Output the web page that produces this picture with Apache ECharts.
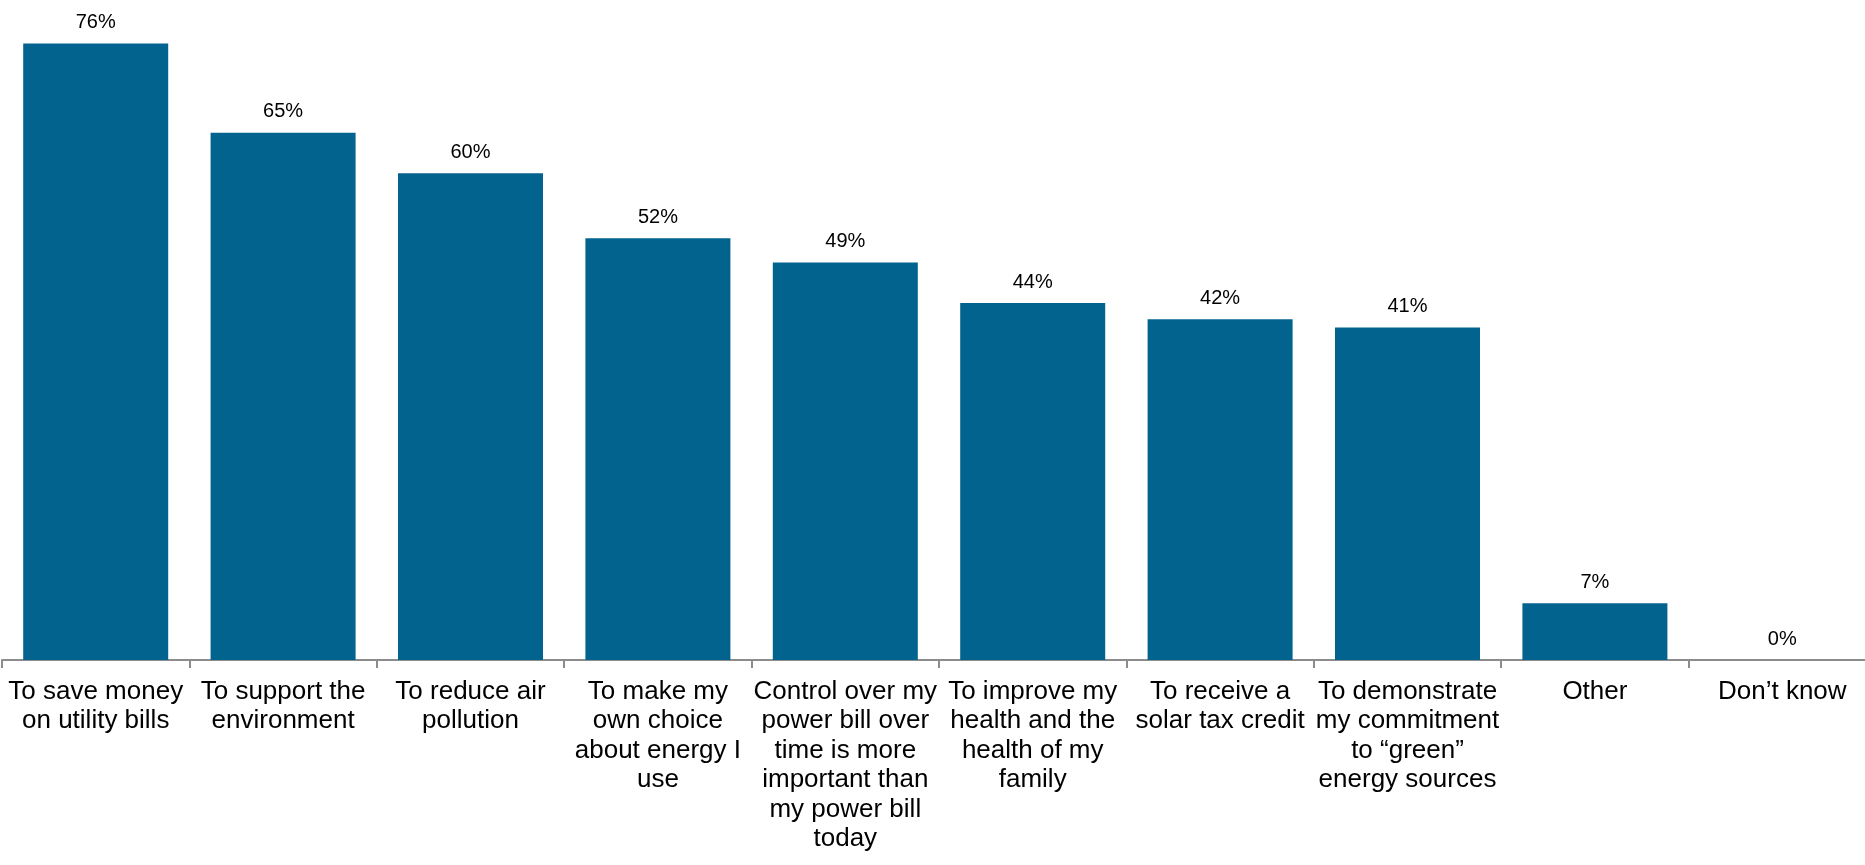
<!DOCTYPE html>
<html>
<head>
<meta charset="utf-8">
<script src="https://cdn.jsdelivr.net/npm/echarts@6/dist/echarts.min.js"></script>
<style>
html,body{margin:0;padding:0;background:#fff;}
#chart{width:1865px;height:865px;}
</style>
</head>
<body>
<div id="chart"></div>
<script>
const categories = [
  "To save money\non utility bills",
  "To support the\nenvironment",
  "To reduce air\npollution",
  "To make my\nown choice\nabout energy I\nuse",
  "Control over my\npower bill over\ntime is more\nimportant than\nmy power bill\ntoday",
  "To improve my\nhealth and the\nhealth of my\nfamily",
  "To receive a\nsolar tax credit",
  "To demonstrate\nmy commitment\nto \u201cgreen\u201d\nenergy sources",
  "Other",
  "Don\u2019t know"
];
const values = [76, 65, 60, 52, 49, 44, 42, 41, 7, 0];

const chart = echarts.init(document.getElementById('chart'));
chart.setOption({
  animation: false,
  grid: { left: 2, top: 11, width: 1874, height: 649, containLabel: false, outerBoundsMode: 'none' },
  xAxis: {
    type: 'category',
    data: categories,
    axisLine: { lineStyle: { color: '#8c8c8c', width: 2 } },
    axisTick: { show: true, length: 8, lineStyle: { color: '#8c8c8c', width: 2 } },
    axisLabel: {
      interval: 0,
      margin: 17,
      color: '#000',
      fontFamily: 'Liberation Sans, Arial, sans-serif',
      fontSize: 26,
      lineHeight: 29.5,
      align: 'center'
    }
  },
  yAxis: {
    type: 'value',
    min: 0,
    max: 80,
    show: false,
    splitLine: { show: false }
  },
  series: [{
    type: 'bar',
    data: values,
    barWidth: 145,
    itemStyle: { color: '#03638f' },
    label: {
      show: true,
      position: 'top',
      distance: 11,
      formatter: '{c}%',
      color: '#000',
      fontFamily: 'Liberation Sans, Arial, sans-serif',
      fontSize: 20
    }
  }]
});
</script>
</body>
</html>
